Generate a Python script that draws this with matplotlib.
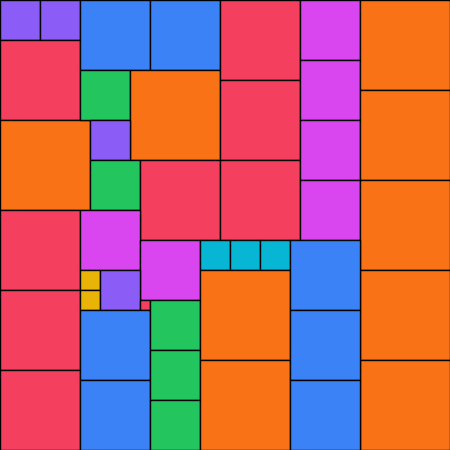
import matplotlib
matplotlib.use("Agg")
import matplotlib.pyplot as plt
from matplotlib.patches import Rectangle

# Packed squares: grid position (units of 10 px) and side length (units)
col = [0, 4, 0, 0, 0, 0, 0, 8, 15, 8, 13, 9, 9, 14, 22, 22, 22,
       30, 30, 30, 30, 36, 36, 36, 36, 36, 8, 14, 20, 23, 26, 8, 8,
       10, 14, 8, 8, 15, 15, 15, 20, 20, 29, 29, 29]
row = [0, 0, 4, 12, 21, 29, 37, 0, 0, 7, 7, 12, 16, 16, 0, 8, 16,
       0, 6, 12, 18, 0, 9, 18, 27, 36, 21, 24, 24, 24, 24, 27, 29,
       27, 30, 31, 38, 30, 35, 40, 27, 36, 24, 31, 38]
side = [4, 4, 8, 9, 8, 8, 8, 7, 7, 5, 9, 4, 5, 8, 8, 8, 8,
        6, 6, 6, 6, 9, 9, 9, 9, 9, 6, 6, 3, 3, 3, 2, 2,
        4, 1, 7, 7, 5, 5, 5, 9, 9, 7, 7, 7]

size_colors = {1: "#f43f5e", 2: "#eab308", 3: "#06b6d4", 4: "#8b5cf6",
               5: "#22c55e", 6: "#d946ef", 7: "#3b82f6", 8: "#f43f5e",
               9: "#f97316"}

fig = plt.figure(figsize=(4.5, 4.5), dpi=100)
ax = fig.add_axes([0, 0, 1, 1])
for x, y, s in zip(col, row, side):
    ax.add_patch(Rectangle((x, y), s, s, facecolor=size_colors[s],
                           edgecolor="black", linewidth=1.0))
ax.set_xlim(0, 45)
ax.set_ylim(45, 0)
ax.axis("off")
fig.savefig("out.png", dpi=100)
